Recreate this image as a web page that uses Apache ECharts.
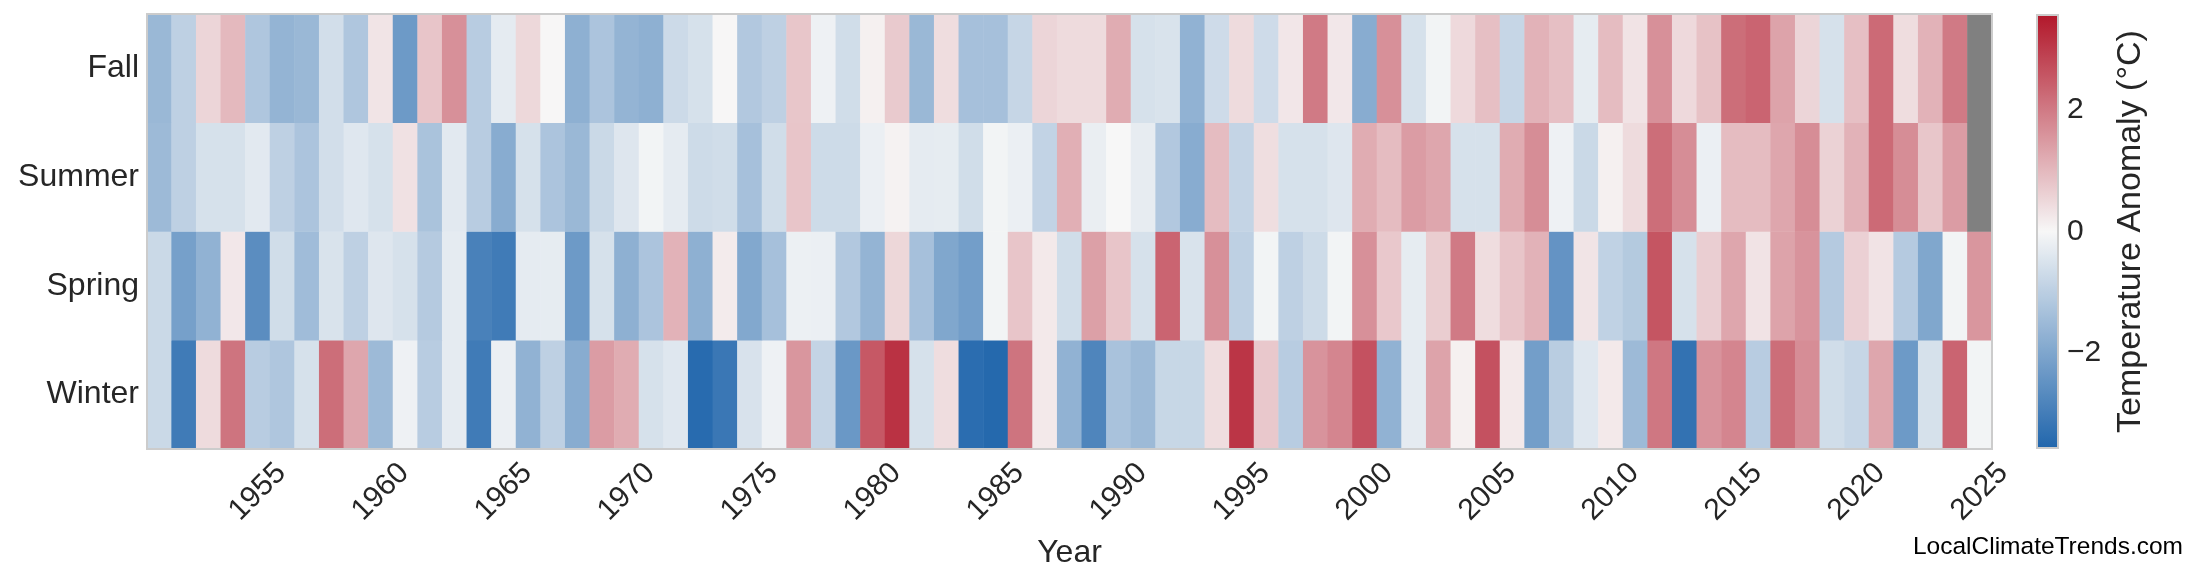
<!DOCTYPE html>
<html>
<head>
<meta charset="utf-8">
<script src="https://cdn.jsdelivr.net/npm/echarts@6/dist/echarts.min.js"></script>
<style>
  html, body { margin: 0; padding: 0; background: #ffffff; }
  #chart { width: 2200px; height: 585px; }
</style>
</head>
<body>
<div id="chart"></div>
<script>
// ---- Data (temperature anomaly, °C), years 1951..2025 ----
const years = [];
for (let y = 1951; y <= 2025; y++) years.push(String(y));

const seasons = ['Winter', 'Spring', 'Summer', 'Fall'];

const winter = [-0.75,-3.05,0.45,2.1,-1.05,-1.2,-0.55,2.2,1.3,-1.5,
  -0.15,-1.05,-0.3,-3.05,-0.2,-1.7,-0.95,-1.85,1.45,1.2,
  -0.55,-0.4,-3.45,-3.15,-0.52,-0.15,1.55,-0.85,-2.35,2.55,
  3.15,-0.55,0.42,-3.4,-3.5,2.1,0.22,-1.7,-2.8,-1.3,
  -1.5,-0.8,-0.8,0.42,3.1,0.75,-1.05,1.6,1.82,2.65,
  -1.7,-0.3,1.35,0.12,2.65,0.22,-2.2,-1.03,-0.4,0.22,
  -1.5,2.05,-3.27,1.6,1.82,-1.05,2.2,1.7,-0.65,-0.82,
  1.3,-2.3,-0.55,2.35,-0.08];

const spring = [-0.75,-2.15,-1.7,0.25,-2.6,-0.65,-1.45,-0.5,-0.95,-0.42,
  -0.55,-1.1,-0.3,-2.9,-3.05,-0.3,-0.28,-2.3,-0.55,-1.75,
  -1.25,1.1,-1.75,0.2,-1.95,-1.35,-0.18,-0.2,-1.15,-1.65,
  0.52,-1.35,-1.98,-2.2,-0.08,0.8,0.22,-0.65,1.4,0.8,
  -0.55,2.35,-0.5,1.65,-0.95,-0.08,-0.95,-0.7,-0.08,1.65,
  0.75,-0.28,0.68,2.0,0.42,0.8,1.1,-2.45,0.3,-0.92,
  -1.12,2.6,-0.55,0.65,1.3,0.32,1.35,1.6,-1.1,0.62,
  0.32,-1.1,-1.98,-0.08,1.55];

const summer = [-1.5,-0.95,-0.55,-0.55,-0.35,-0.95,-1.25,-0.62,-0.4,-0.55,
  0.35,-1.28,-0.35,-1.05,-1.85,-0.55,-1.25,-1.55,-0.75,-0.42,
  -0.08,-0.3,-0.7,-0.65,-1.35,-0.65,0.8,-0.7,-0.7,-0.2,
  0.08,-0.3,-0.28,-0.65,-0.08,-0.2,-0.88,1.15,-0.22,0.0,
  -0.27,-1.15,-1.85,0.95,-0.85,0.4,-0.55,-0.55,-0.42,1.2,
  0.95,1.45,1.3,-0.55,-0.55,1.2,1.7,-0.15,-0.75,0.12,
  0.45,2.2,1.7,-0.2,0.95,0.95,1.3,1.7,0.6,1.1,
  2.25,1.7,0.78,1.45,null];

const fall = [-1.55,-0.95,0.55,1.0,-1.2,-1.65,-1.55,-0.62,-1.2,0.3,
  -2.3,0.8,1.65,-1.05,-0.3,0.5,0.02,-1.75,-1.25,-1.65,
  -1.75,-0.72,-0.55,0.02,-1.15,-0.95,0.78,-0.15,-0.65,0.12,
  0.72,-1.55,0.42,-1.35,-1.35,-0.82,0.55,0.45,0.45,1.2,
  -0.55,-0.5,-1.7,-0.68,0.45,-0.68,0.27,2.0,0.25,-1.85,
  1.65,-0.55,-0.08,0.48,0.9,-0.82,1.1,0.9,-0.28,0.95,
  0.32,1.65,0.48,0.85,2.2,2.35,1.35,0.55,-0.55,0.9,
  2.25,0.42,1.1,2.0,null];

const colorbarTicks = [-2, 0, 2];
const colorRange = [-3.57, 3.57];

// ---- Build series data ----
const bySeason = [winter, spring, summer, fall];
const cells = [];
const missing = [];
bySeason.forEach((arr, s) => {
  arr.forEach((v, i) => {
    if (v === null) { cells.push([i, s, '-']); missing.push([i, s, 0]); }
    else cells.push([i, s, v]);
  });
});

const fontFam = '"Liberation Sans", Arial, Helvetica, sans-serif';
const txt = '#262626';

const chart = echarts.init(document.getElementById('chart'), null, { renderer: 'canvas' });
chart.setOption({
  animation: false,
  backgroundColor: '#ffffff',
  textStyle: { fontFamily: fontFam },
  grid: [
    { left: 147, top: 14, width: 1845, height: 435, show: true, borderColor: '#cccccc', borderWidth: 2, backgroundColor: 'transparent', z: 10 },
    { left: 2037, top: 15, width: 21, height: 433, show: true, borderColor: '#cccccc', borderWidth: 2, backgroundColor: 'transparent', z: 10 }
  ],
  xAxis: [
    {
      type: 'category', gridIndex: 0, data: years,
      axisLine: { show: false }, axisTick: { show: false }, splitLine: { show: false },
      axisLabel: {
        interval: (idx, val) => Number(val) % 5 === 0,
        rotate: 45, align: 'center', verticalAlign: 'middle', margin: 43,
        fontSize: 30, color: txt, fontFamily: fontFam
      },
      name: 'Year', nameLocation: 'middle', nameGap: 88,
      nameTextStyle: { fontSize: 32, color: txt, fontFamily: fontFam }
    },
    { type: 'value', gridIndex: 1, show: false, min: 0, max: 1 }
  ],
  yAxis: [
    {
      type: 'category', gridIndex: 0, data: seasons,
      axisLine: { show: false }, axisTick: { show: false }, splitLine: { show: false },
      axisLabel: { fontSize: 32, color: txt, margin: 8, fontFamily: fontFam }
    },
    {
      type: 'value', gridIndex: 1, position: 'right',
      min: colorRange[0], max: colorRange[1], interval: 0.01,
      axisLine: { show: false }, axisTick: { show: false }, splitLine: { show: false },
      axisLabel: {
        margin: 9, fontSize: 30, color: txt, fontFamily: fontFam,
        formatter: (v) => {
          for (const t of colorbarTicks) {
            if (Math.abs(v - t) < 1e-6) return String(t).replace('-', '\u2212');
          }
          return '';
        }
      },
      name: 'Temperature Anomaly (°C)', nameLocation: 'middle', nameRotate: 90, nameGap: 56,
      nameTextStyle: { fontSize: 34, color: txt, fontFamily: fontFam }
    }
  ],
  visualMap: {
    type: 'continuous', seriesIndex: 0,
    min: colorRange[0], max: colorRange[1],
    inRange: { color: ['#2166ac', '#f7f7f7', '#b2182b'] },
    orient: 'vertical', left: 2037, top: 15, itemWidth: 21, itemHeight: 433,
    padding: 0, calculable: false, text: null, show: true, hoverLink: false,
    textStyle: { color: 'transparent' }
  },
  graphic: [
    {
      type: 'text', right: 17, top: 535,
      style: { text: 'LocalClimateTrends.com', fill: '#000000', fontSize: 24.5, fontFamily: fontFam }
    }
  ],
  series: [
    {
      type: 'heatmap', xAxisIndex: 0, yAxisIndex: 0, data: cells,
      itemStyle: { borderWidth: 0 }, emphasis: { disabled: true }
    },
    {
      type: 'heatmap', xAxisIndex: 0, yAxisIndex: 0, data: missing,
      itemStyle: { color: '#808080', borderWidth: 0 }, emphasis: { disabled: true }
    }
  ]
});
</script>
</body>
</html>
